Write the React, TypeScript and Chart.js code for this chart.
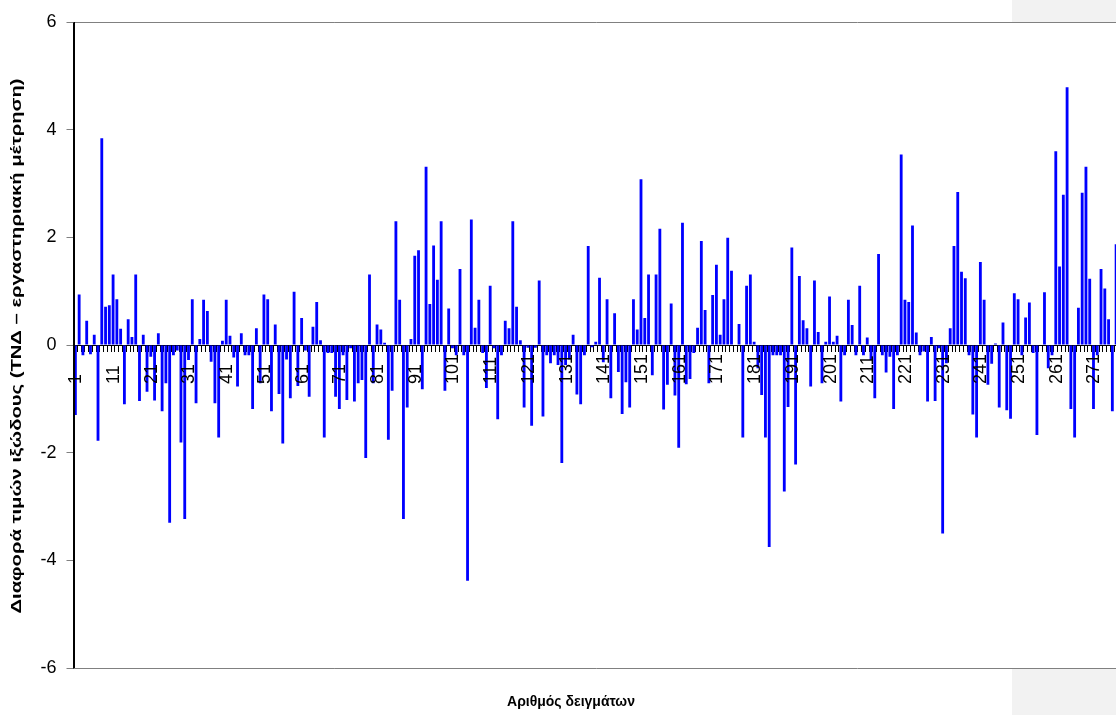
import React, { useEffect, useRef } from "react";
import { Chart, registerables } from "chart.js";

Chart.register(...registerables);

// Differences between TNΔ estimate and lab measurement, samples 1..277 (visible part)
const differences: number[] = [
  -1.3, 0.94, -0.19, 0.45, -0.17, 0.19, -1.78, 3.84, 0.71, 0.74,
  1.31, 0.85, 0.30, -1.10, 0.48, 0.15, 1.31, -1.04, 0.19, -0.87,
  -0.22, -1.03, 0.22, -1.23, -0.71, -3.30, -0.19, -0.10, -1.81, -3.23,
  -0.28, 0.85, -1.08, 0.11, 0.84, 0.63, -0.31, -1.08, -1.72, 0.08,
  0.84, 0.17, -0.23, -0.77, 0.22, -0.19, -0.19, -1.19, 0.31, -0.71,
  0.94, 0.85, -1.23, 0.38, -0.91, -1.83, -0.27, -0.99, 0.99, -0.76,
  0.50, -0.10, -0.96, 0.34, 0.80, 0.09, -1.72, -0.15, -0.15, -0.96,
  -1.19, -0.19, -1.02, -0.06, -1.05, -0.71, -0.65, -2.10, 1.31, -0.71,
  0.38, 0.29, 0.04, -1.76, -0.85, 2.30, 0.84, -3.23, -1.16, 0.11,
  1.66, 1.76, -0.82, 3.31, 0.76, 1.85, 1.21, 2.30, -0.85, 0.68,
  -0.06, -0.19, 1.41, -0.19, -4.38, 2.33, 0.32, 0.84, -0.15, -0.80,
  1.10, -0.06, -1.38, -0.19, 0.45, 0.31, 2.30, 0.71, 0.09, -1.16,
  -0.05, -1.50, -0.05, 1.20, -1.33, -0.19, -0.34, -0.19, -0.37, -2.19,
  -0.37, -0.27, 0.19, -0.92, -1.10, -0.19, 1.84, -0.04, 0.06, 1.25,
  -0.32, 0.85, -0.99, 0.59, -0.50, -1.28, -0.69, -1.16, 0.85, 0.29,
  3.08, 0.50, 1.31, -0.56, 1.31, 2.16, -1.20, -0.74, 0.77, -0.94,
  -1.91, 2.27, -0.73, -0.63, -0.15, 0.32, 1.93, 0.65, -0.71, 0.93,
  1.49, 0.19, 0.85, 1.99, 1.38, 0.0, 0.39, -1.72, 1.10, 1.31,
  0.06, -0.43, -0.93, -1.72, -3.75, -0.19, -0.19, -0.19, -2.72, -1.15,
  1.81, -2.22, 1.28, 0.46, 0.31, -0.77, 1.20, 0.24, -0.71, 0.06,
  0.90, 0.06, 0.17, -1.05, -0.19, 0.84, 0.37, -0.19, 1.10, -0.19,
  0.14, -0.28, -0.99, 1.69, -0.19, -0.51, -0.22, -1.19, -0.19, 3.54,
  0.84, 0.80, 2.22, 0.23, -0.19, -0.12, -1.05, 0.15, -1.04, -0.06,
  -3.50, -0.34, 0.31, 1.84, 2.84, 1.36, 1.24, -0.19, -1.29, -1.72,
  1.54, 0.84, -0.74, -0.35, 0.03, -1.16, 0.42, -1.21, -1.37, 0.96,
  0.85, -0.19, 0.51, 0.79, -0.15, -1.67, 0.0, 0.98, -0.43, -0.19,
  3.60, 1.46, 2.79, 4.79, -1.19, -1.72, 0.69, 2.83, 3.31, 1.23,
  -1.19, -0.19, 1.41, 1.05, 0.48, -1.23, 1.87,
];

// Sample numbers (category labels) 1..N
const sampleNumbers: string[] = differences.map((_, i) => String(i + 1));
const labelEvery = 10;

const yMin = -6;
const yMax = 6;
const yStep = 2;

const yTitle = "Διαφορά τιμών ιξώδους (ΤΝΔ – εργαστηριακή μέτρηση)";
const xTitle = "Αριθμός δειγμάτων";

const FONT = '"Liberation Sans", Arial, sans-serif';

export default function App() {
  const canvasRef = useRef<HTMLCanvasElement | null>(null);

  useEffect(() => {
    const canvas = canvasRef.current;
    if (!canvas) return;

    const framePlugin = {
      id: "frame",
      beforeDraw(chart: any) {
        const { ctx, chartArea } = chart;
        ctx.save();
        ctx.fillStyle = "#ffffff";
        ctx.fillRect(chartArea.left, chartArea.top, chartArea.right - chartArea.left, chartArea.bottom - chartArea.top);
        ctx.restore();
      },
      afterDraw(chart: any) {
        const { ctx, chartArea } = chart;
        const xs = chart.scales.x;
        const ys = chart.scales.y;
        ctx.save();
        ctx.strokeStyle = "#808080";
        ctx.lineWidth = 1;
        ctx.beginPath();
        ctx.moveTo(chartArea.left, Math.round(chartArea.top) + 0.5);
        ctx.lineTo(chartArea.right + 5, Math.round(chartArea.top) + 0.5);
        ctx.moveTo(chartArea.left, Math.round(chartArea.bottom) + 0.5);
        ctx.lineTo(chartArea.right + 5, Math.round(chartArea.bottom) + 0.5);
        ctx.stroke();
        ctx.strokeStyle = "#000000";
        ctx.beginPath();
        ctx.moveTo(Math.round(chartArea.left) + 0.5, chartArea.top);
        ctx.lineTo(Math.round(chartArea.left) + 0.5, chartArea.bottom);
        ctx.stroke();

        // category labels (rotated, reading upward, starting at a common baseline)
        const y0 = ys.getPixelForValue(0);
        ctx.fillStyle = "#000000";
        ctx.font = `18px ${FONT}`;
        ctx.textAlign = "left";
        ctx.textBaseline = "middle";
        sampleNumbers.forEach((lab, i) => {
          if (i % labelEvery !== 0) return;
          const x = xs.getPixelForTick(i);
          ctx.save();
          ctx.translate(x + 1, y0 + 39);
          ctx.rotate(-Math.PI / 2);
          ctx.fillText(lab, 0, 0);
          ctx.restore();
        });

        ctx.font = `bold 14px ${FONT}`;
        ctx.textAlign = "center";
        ctx.textBaseline = "middle";
        ctx.fillText(xTitle, 571, 702);
        const w = ctx.measureText(yTitle).width;
        const stretch = 535 / w;
        ctx.translate(17, 346);
        ctx.rotate(-Math.PI / 2);
        ctx.scale(stretch, 1);
        ctx.fillText(yTitle, 0, 0);
        ctx.restore();
      },
    };

    const chart = new Chart(canvas, {
      type: "bar",
      data: {
        labels: sampleNumbers,
        datasets: [
          {
            data: differences,
            backgroundColor: "#0000FF",
            borderWidth: 0,
            barPercentage: 0.75,
            categoryPercentage: 1,
          },
        ],
      },
      options: {
        animation: false,
        responsive: false,
        maintainAspectRatio: false,
        layout: { padding: { top: 22, bottom: 47, left: 0, right: 0 } },
        plugins: {
          legend: { display: false },
          tooltip: { enabled: false },
          title: { display: false },
        },
        scales: {
          x: {
            type: "category",
            position: { y: 0 } as any,
            offset: true,
            afterFit: (scale: any) => {
              scale.paddingLeft = 0;
              scale.paddingRight = 0;
            },
            grid: {
              display: true,
              drawOnChartArea: false,
              drawTicks: true,
              tickLength: 6,
              color: "#000000",
              offset: true,
            },
            border: { display: true, color: "#000000", width: 1 },
            ticks: {
              display: false,
              autoSkip: false,
            },
          },
          y: {
            min: yMin,
            max: yMax,
            afterFit: (scale: any) => {
              scale.width = 73.5;
              scale.paddingTop = 0;
              scale.paddingBottom = 0;
            },
            grid: {
              display: true,
              drawOnChartArea: false,
              drawTicks: true,
              tickLength: 7,
              color: "#808080",
            },
            border: { display: true, color: "#000000", width: 1 },
            ticks: {
              stepSize: yStep,
              padding: 10,
              color: "#000000",
              font: { family: FONT, size: 18 },
            },
          },
        },
      },
      plugins: [framePlugin],
    });

    return () => {
      chart.destroy();
    };
  }, []);

  return (
    <div
      style={{
        position: "fixed",
        left: 0,
        top: 0,
        width: 1118,
        height: 715,
        background: "#ffffff",
        overflow: "hidden",
      }}
    >
      <div
        style={{
          position: "absolute",
          left: 1012,
          top: 0,
          width: 106,
          height: 715,
          background: "#f2f2f2",
        }}
      />
      <canvas
        ref={canvasRef}
        width={1118}
        height={715}
        style={{ position: "absolute", left: 0, top: 0, width: 1118, height: 715 }}
      />
    </div>
  );
}
